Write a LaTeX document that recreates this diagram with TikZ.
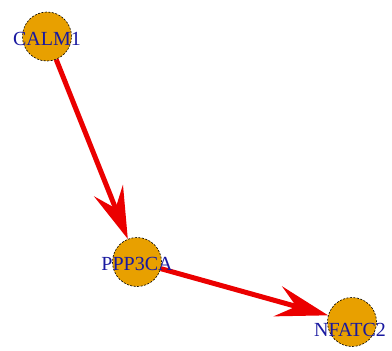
\documentclass[tikz,border=0pt]{standalone}
\usepackage{fontspec}
\setmainfont{Liberation Serif}
\usetikzlibrary{arrows.meta}
\definecolor{vfill}{RGB}{232,160,0}
\definecolor{lblue}{RGB}{25,25,160}
\definecolor{ered}{RGB}{235,0,0}
\begin{document}
\begin{tikzpicture}[x=1pt,y=-1pt,
  vert/.style={circle,draw=black,dashed,dash pattern=on 2pt off 1.5pt,line width=0.6pt,fill=vfill,minimum size=49pt,inner sep=0pt},
  lbl/.style={text=lblue,font=\fontsize{20}{20}\selectfont,inner sep=0pt},
  edge/.style={draw=ered,line width=5pt,-{Stealth[length=52pt,width=31pt,inset=19pt]},shorten >=0pt}]
\useasboundingbox (0,0) rectangle (392,351);
\fill[white] (0,0) rectangle (392,351);
\node[vert] (c) at (47,36.5) {};
\node[vert] (p) at (137,262) {};
\node[vert] (n) at (352,322) {};
\draw[edge] (c) -- (p);
\draw[edge] (p) -- (n);
\node[lbl] at (47,38.5) {CALM1};
\node[lbl] at (137,264) {PPP3CA};
\node[lbl] at (350,330) {NFATC2};
\end{tikzpicture}
\end{document}
